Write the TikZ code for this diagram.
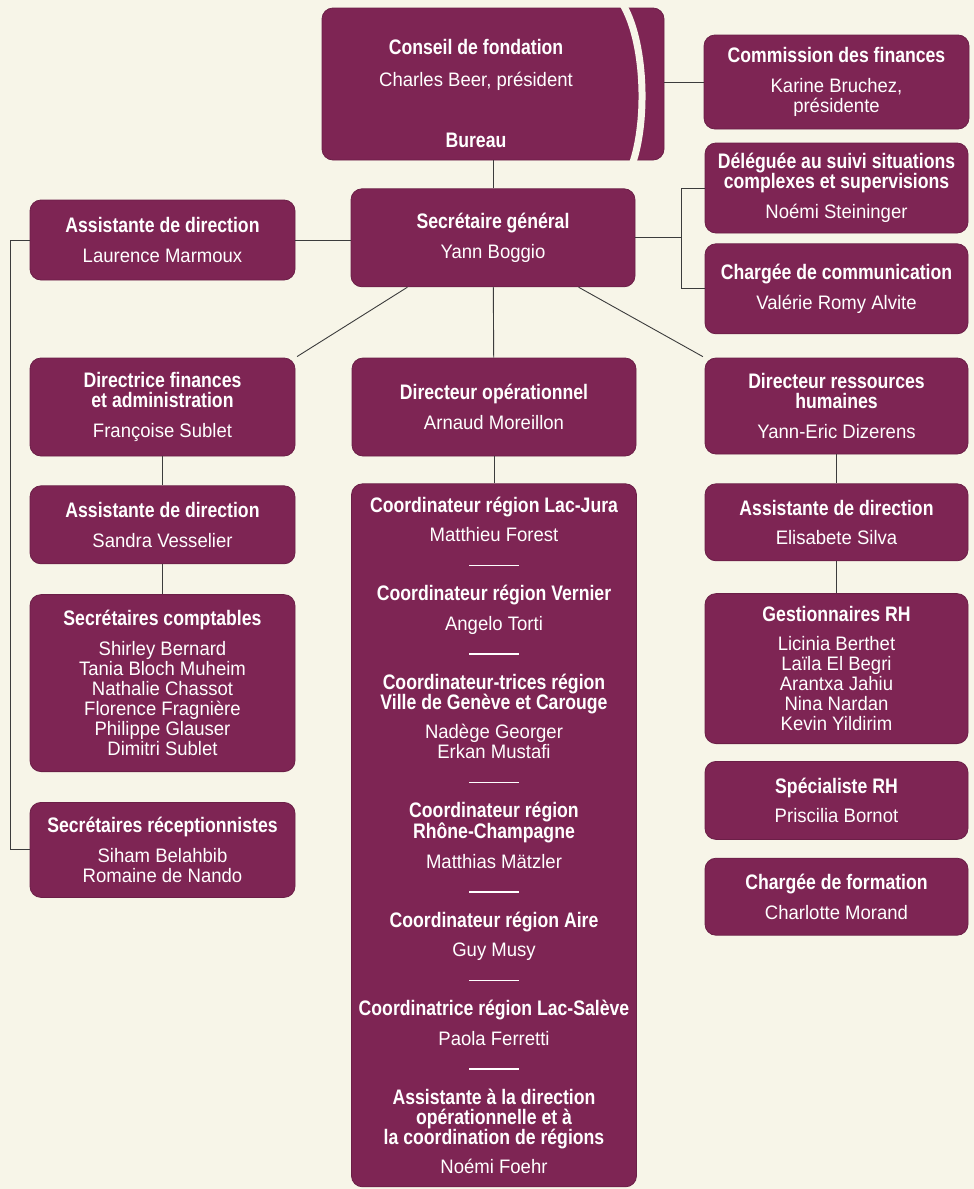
\documentclass[tikz,border=0pt]{standalone}
\usepackage{fontspec}
\setmainfont{Liberation Sans}[UprightFeatures={FakeStretch=0.95}, BoldFeatures={FakeStretch=0.84}]
\usepackage{xcolor}
\usetikzlibrary{shapes,arrows,positioning,fit}

\definecolor{plum}{RGB}{126,37,84}
\definecolor{paper}{RGB}{247,245,232}
\definecolor{wire}{RGB}{60,60,60}
\newcommand{\ttl}[1]{{\fontsize{21}{20}\selectfont\bfseries #1}}
\newcommand{\dashrule}{\rule[5pt]{50pt}{1.3pt}}

\begin{document}
\begin{tikzpicture}[
    x=1pt, y=-1pt,
    unit/.style={rectangle, rounded corners=11pt, fill=plum, draw=plum!85!black, line width=0.8pt, text=white, align=center, inner sep=2pt, font=\fontsize{19.5}{20}\selectfont},
    side/.style={unit, minimum width=265pt},
    mid/.style={unit, minimum width=284pt},
    inbox/.style={text=white, align=center, inner sep=0pt, font=\fontsize{19.5}{20}\selectfont},
    wire/.style={draw=wire, line width=0.9pt}
]
    \useasboundingbox (0,0) rectangle (974,1189);
    \fill[paper] (0,0) rectangle (974,1189);

    % Board
    \node [unit, minimum width=342pt, minimum height=152pt] (conseil) at (493,84) {};
    \draw [paper, line width=7pt] (622,3) .. controls (645,40) and (648,120) .. (632,165);
    \node [inbox] (conseiltxt) at (476,65) {\ttl{Conseil de fondation}\\[12pt]Charles Beer, président};
    \node [inbox] (bureau) at (476,140) {\ttl{Bureau}};
    \node [side, minimum height=94pt] (commission) at (836.5,82) {\ttl{Commission des finances}\\[9.5pt]Karine Bruchez,\\présidente};

    % General secretary and staff
    \node [mid, minimum height=98pt, below=28pt of conseil] (secretaire) {\ttl{Secrétaire général}\\[9.5pt]Yann Boggio};
    \node [side, minimum height=80pt] (assistLM) at (162.5,240) {\ttl{Assistante de direction}\\[9.5pt]Laurence Marmoux};
    \node [side, minimum width=263pt, minimum height=90pt] (delegue) at (836.5,188) {\ttl{Déléguée au suivi situations}\\\ttl{complexes et supervisions}\\[9.5pt]Noémi Steininger};
    \node [side, minimum width=263pt, minimum height=90pt, below=10pt of delegue] (comm) {\ttl{Chargée de communication}\\[9.5pt]Valérie Romy Alvite};

    % Directors
    \node [side, minimum height=98pt] (dirfin) at (162.5,407) {\ttl{Directrice finances}\\\ttl{et administration}\\[9.5pt]Françoise Sublet};
    \node [mid, minimum height=98pt] (dirops) at (494,407) {\ttl{Directeur opérationnel}\\[9.5pt]Arnaud Moreillon};
    \node [side, minimum width=263pt, minimum height=96pt] (dirrh) at (836.5,406) {\ttl{Directeur ressources}\\\ttl{humaines}\\[9.5pt]Yann-Eric Dizerens};

    % Finance column
    \node [side, minimum height=78pt, below=29pt of dirfin] (assistSV) {\ttl{Assistante de direction}\\[9.5pt]Sandra Vesselier};
    \node [side, minimum height=177pt, below=30pt of assistSV] (compta) {\ttl{Secrétaires comptables}\\[9.5pt]Shirley Bernard\\Tania Bloch Muheim\\Nathalie Chassot\\Florence Fragnière\\Philippe Glauser\\Dimitri Sublet};
    \node [side, minimum height=95pt, below=30pt of compta] (recept) {\ttl{Secrétaires réceptionnistes}\\[9.5pt]Siham Belahbib\\Romaine de Nando};

    % Regions column
    \node [mid, minimum width=285pt, minimum height=703pt, below=27pt of dirops] (regions) {%
        \ttl{Coordinateur région Lac-Jura}\\[9.5pt]Matthieu Forest\\[9.5pt]\dashrule\\[9.5pt]
        \ttl{Coordinateur région Vernier}\\[9.5pt]Angelo Torti\\[9.5pt]\dashrule\\[9.5pt]
        \ttl{Coordinateur-trices région}\\\ttl{Ville de Genève et Carouge}\\[9.5pt]Nadège Georger\\Erkan Mustafi\\[9.5pt]\dashrule\\[9.5pt]
        \ttl{Coordinateur région}\\\ttl{Rhône-Champagne}\\[9.5pt]Matthias Mätzler\\[9.5pt]\dashrule\\[9.5pt]
        \ttl{Coordinateur région Aire}\\[9.5pt]Guy Musy\\[9.5pt]\dashrule\\[9.5pt]
        \ttl{Coordinatrice région Lac-Salève}\\[9.5pt]Paola Ferretti\\[9.5pt]\dashrule\\[9.5pt]
        \ttl{Assistante à la direction}\\\ttl{opérationnelle et à}\\\ttl{la coordination de régions}\\[9.5pt]Noémi Foehr};

    % HR column
    \node [side, minimum width=263pt, minimum height=77pt, below=29pt of dirrh] (assistES) {\ttl{Assistante de direction}\\[9.5pt]Elisabete Silva};
    \node [side, minimum width=263pt, minimum height=150pt, below=32pt of assistES] (gestRH) {\ttl{Gestionnaires RH}\\[9.5pt]Licinia Berthet\\Laïla El Begri\\Arantxa Jahiu\\Nina Nardan\\Kevin Yildirim};
    \node [side, minimum width=263pt, minimum height=78pt, below=17pt of gestRH] (specRH) {\ttl{Spécialiste RH}\\[9.5pt]Priscilia Bornot};
    \node [side, minimum width=263pt, minimum height=77pt, below=18pt of specRH] (formation) {\ttl{Chargée de formation}\\[9.5pt]Charlotte Morand};

    %--- Links ---
    \draw [wire] (conseil.east |- commission.west) -- (commission.west);
    \draw [wire] (secretaire.north) -- (secretaire.north |- conseil.south);
    \draw [wire] (assistLM.east) -- (assistLM.east -| secretaire.west);
    \draw [wire] (secretaire.east) -- ++(46pt,0pt);
    \draw [wire] (delegue.west) -- ++(-23pt,0pt) |- (comm.west);
    \draw [wire] (assistLM.west) -- ++(-19pt,0pt) |- (recept.west);
    \draw [wire, shorten >=2pt] (secretaire.210) -- (dirfin.north east);
    \draw [wire, shorten >=2pt] (secretaire.330) -- (dirrh.north west);
    \draw [wire] (secretaire) -- (dirops);
    \draw [wire] (dirfin) -- (assistSV);
    \draw [wire] (assistSV) -- (compta);
    \draw [wire] (dirops) -- (regions);
    \draw [wire] (dirrh) -- (assistES);
    \draw [wire] (assistES) -- (gestRH);

\end{tikzpicture}
\end{document}
